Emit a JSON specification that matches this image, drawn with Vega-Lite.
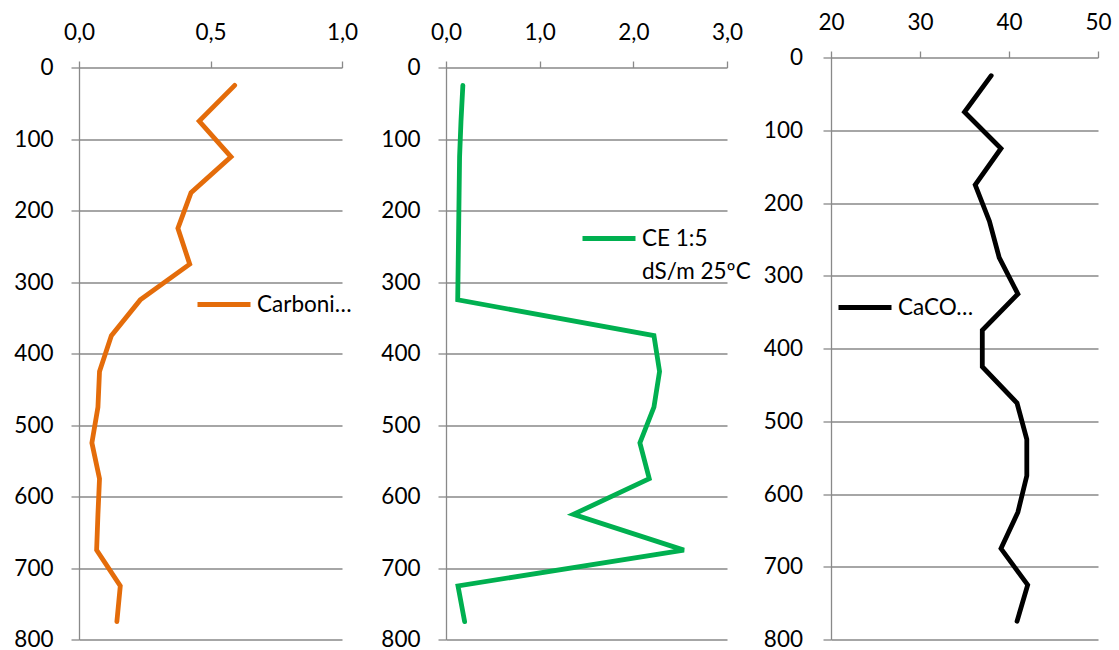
{
  "$schema": "https://vega.github.io/schema/vega-lite/v6.json",
  "background": "white",
  "padding": {"left": 13, "top": 11.5, "right": 5, "bottom": 5},
  "datasets": {
    "soil": [
      {"prof": 25, "carb": 0.592, "ce": 0.18, "caco": 38.0},
      {"prof": 75, "carb": 0.457, "ce": 0.16, "caco": 35.0},
      {"prof": 125, "carb": 0.578, "ce": 0.145, "caco": 39.1},
      {"prof": 175, "carb": 0.426, "ce": 0.14, "caco": 36.2},
      {"prof": 225, "carb": 0.376, "ce": 0.135, "caco": 37.8},
      {"prof": 275, "carb": 0.421, "ce": 0.13, "caco": 38.9},
      {"prof": 325, "carb": 0.233, "ce": 0.125, "caco": 41.0},
      {"prof": 375, "carb": 0.123, "ce": 2.22, "caco": 37.0},
      {"prof": 425, "carb": 0.078, "ce": 2.28, "caco": 37.0},
      {"prof": 475, "carb": 0.072, "ce": 2.22, "caco": 40.9},
      {"prof": 525, "carb": 0.049, "ce": 2.07, "caco": 42.0},
      {"prof": 575, "carb": 0.078, "ce": 2.17, "caco": 42.0},
      {"prof": 625, "carb": 0.072, "ce": 1.36, "caco": 41.0},
      {"prof": 675, "carb": 0.067, "ce": 2.54, "caco": 39.1},
      {"prof": 725, "carb": 0.157, "ce": 0.128, "caco": 42.1},
      {"prof": 775, "carb": 0.144, "ce": 0.199, "caco": 40.9}
    ]
  },
  "bounds": "flush",
  "spacing": 104,
  "resolve": {
    "scale": {"x": "independent", "y": "independent", "color": "independent"},
    "legend": {"color": "independent"}
  },
  "hconcat": [
    {
      "width": 263,
      "height": 582,
      "data": {"name": "soil"},
      "mark": {"type": "line", "strokeWidth": 4.8, "strokeCap": "round"},
      "encoding": {
        "x": {
          "field": "carb", "type": "quantitative",
          "scale": {"domain": [0, 1], "nice": false, "zero": false},
          "axis": {"orient": "top", "values": [0, 0.5, 1], "labelExpr": "replace(format(datum.value, '.1f'), '.', ',')", "offset": -10, "grid": false, "title": null, "tickSize": 6.5, "labelPadding": 16.5, "domain": false}
        },
        "y": {
          "field": "prof", "type": "quantitative",
          "scale": {"domain": [0, 800], "range": [10, 582], "nice": false, "zero": false},
          "axis": {"values": [0, 100, 200, 300, 400, 500, 600, 700, 800], "title": null, "grid": true, "tickSize": 8, "labelPadding": 18, "domain": true}
        },
        "order": {"field": "prof", "type": "quantitative"},
        "color": {
          "datum": "Carboni…",
          "scale": {"range": ["#E46C0A"]},
          "legend": {"orient": "none", "legendX": 116, "legendY": 218, "title": null, "symbolType": "stroke", "symbolSize": 2809, "symbolStrokeWidth": 4.8, "labelOffset": 4, "padding": 0}
        }
      }
    },
    {
      "width": 281,
      "height": 582,
      "data": {"name": "soil"},
      "mark": {"type": "line", "strokeWidth": 4.8, "strokeCap": "round"},
      "encoding": {
        "x": {
          "field": "ce", "type": "quantitative",
          "scale": {"domain": [0, 3], "nice": false, "zero": false},
          "axis": {"orient": "top", "values": [0, 1, 2, 3], "labelExpr": "replace(format(datum.value, '.1f'), '.', ',')", "offset": -10, "grid": false, "title": null, "tickSize": 6.5, "labelPadding": 16.5, "domain": false}
        },
        "y": {
          "field": "prof", "type": "quantitative",
          "scale": {"domain": [0, 800], "range": [10, 582], "nice": false, "zero": false},
          "axis": {"values": [0, 100, 200, 300, 400, 500, 600, 700, 800], "title": null, "grid": true, "tickSize": 8, "labelPadding": 18, "domain": true}
        },
        "order": {"field": "prof", "type": "quantitative"},
        "color": {
          "datum": "CE 1:5 dS/m 25ºC",
          "scale": {"range": ["#00B050"]},
          "legend": {"orient": "none", "legendX": 134, "legendY": 152, "title": null, "symbolType": "stroke", "symbolSize": 2809, "symbolStrokeWidth": 4.8, "labelOffset": 4, "padding": 0, "labelExpr": "['CE 1:5', 'dS/m 25ºC']"}
        }
      }
    },
    {
      "width": 267,
      "height": 582,
      "data": {"name": "soil"},
      "mark": {"type": "line", "strokeWidth": 4.8, "strokeCap": "round"},
      "encoding": {
        "x": {
          "field": "caco", "type": "quantitative",
          "scale": {"domain": [20, 50], "nice": false, "zero": false},
          "axis": {"orient": "top", "values": [20, 30, 40, 50], "format": "d", "grid": false, "title": null, "tickSize": 6.5, "labelPadding": 16.5, "domain": false}
        },
        "y": {
          "field": "prof", "type": "quantitative",
          "scale": {"domain": [0, 800], "range": [0, 582], "nice": false, "zero": false},
          "axis": {"values": [0, 100, 200, 300, 400, 500, 600, 700, 800], "title": null, "grid": true, "tickSize": 8, "labelPadding": 20.5, "domain": true}
        },
        "order": {"field": "prof", "type": "quantitative"},
        "color": {
          "datum": "CaCO…",
          "scale": {"range": ["#000000"]},
          "legend": {"orient": "none", "legendX": 5, "legendY": 221, "title": null, "symbolType": "stroke", "symbolSize": 2809, "symbolStrokeWidth": 4.8, "labelOffset": 4, "padding": 0}
        }
      }
    }
  ],
  "config": {
    "view": {"stroke": null},
    "font": "Lato",
    "axis": {"labelFont": "Lato", "labelFontSize": 22.5, "labelColor": "#000000", "tickColor": "#898989", "domainColor": "#898989", "gridColor": "#898989", "tickWidth": 1.3, "domainWidth": 1.3, "gridWidth": 1.3, "labelFlush": false, "labelOverlap": false, "labelBound": false},
    "legend": {"labelFont": "Lato", "labelFontSize": 22.5, "labelColor": "#000000", "labelLimit": 0},
    "style": {"guide-label": {"lineHeight": 33}}
  }
}
